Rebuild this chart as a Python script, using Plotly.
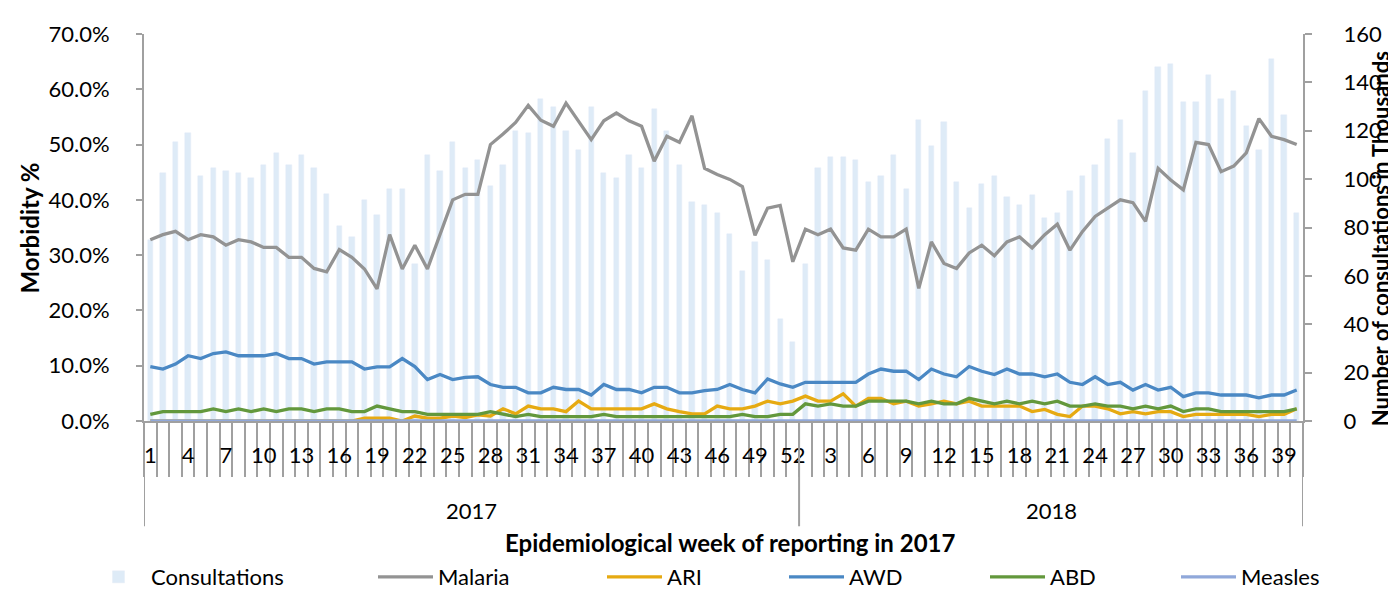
import plotly.graph_objects as go

# ---------------- data ----------------
years = ["2017", "2018"]
weeks_2017 = list(range(1, 53))
weeks_2018 = list(range(1, 41))

# consultations in thousands
consult_2017 = [75, 102.5, 115.5, 119, 101.5, 104.5, 103.5, 102.5, 100.5, 106,
                111, 106, 110, 104.5, 94, 80.5, 76, 91.5, 85, 96,
                96, 65, 110, 103.5, 115.5, 104.5, 108, 97, 106, 120,
                119, 133, 130, 120, 112, 130, 102.5, 100.5, 110, 104.5,
                129, 120, 106, 90.5, 89.5, 86, 77.5, 62, 74, 66.5,
                42, 32.5]
consult_2018 = [65, 104.5, 109, 109, 108, 99, 101.5, 110, 96, 124.5,
                113.5, 123.5, 99, 88, 98, 101.5, 92.5, 89.5, 93.5, 84,
                86, 95, 101.5, 106, 116.5, 124.5, 111, 136.5, 146.5, 147.5,
                132, 132, 143, 133, 136.5, 122, 112, 149.5, 126.5, 86]

# morbidity in percent
malaria_2017 = [32.8, 33.7, 34.3, 32.8, 33.7, 33.3, 31.8, 32.8, 32.4, 31.4,
                31.4, 29.6, 29.6, 27.6, 27.0, 31.0, 29.6, 27.5, 23.9, 33.7,
                27.5, 31.8, 27.5, 33.7, 40.0, 41.0, 41.0, 50.0, 51.9, 54.0,
                57.1, 54.4, 53.3, 57.5, 54.3, 50.9, 54.3, 55.7, 54.3, 53.3,
                47.0, 51.5, 50.4, 55.2, 45.7, 44.6, 43.7, 42.4, 33.6, 38.5,
                39.0, 28.8]
malaria_2018 = [34.7, 33.7, 34.7, 31.3, 30.9, 34.7, 33.3, 33.3, 34.7, 24.0,
                32.4, 28.5, 27.6, 30.4, 31.8, 29.9, 32.4, 33.3, 31.3, 33.7,
                35.6, 30.9, 34.3, 37.0, 38.5, 40.0, 39.5, 36.1, 45.7, 43.6,
                41.8, 50.4, 50.0, 45.1, 46.1, 48.5, 54.7, 51.5, 50.9, 50.0]

ari_2017 = [0, 0, 0, 0, 0, 0, 0, 0, 0, 0,
            0, 0, 0, 0, 0, 0, 0, 0.5, 0.5, 0.5,
            0, 0.9, 0.5, 0.5, 0.9, 0.6, 1.1, 0.9, 2.2, 1.3,
            2.7, 2.2, 2.2, 1.7, 3.6, 2.2, 2.2, 2.2, 2.2, 2.2,
            3.1, 2.2, 1.7, 1.3, 1.3, 2.7, 2.2, 2.2, 2.7, 3.6,
            3.1, 3.6]
ari_2018 = [4.5, 3.6, 3.6, 4.9, 2.7, 4.1, 4.1, 3.1, 3.6, 2.7,
            3.1, 3.6, 3.1, 3.6, 2.7, 2.7, 2.7, 2.7, 1.7, 2.1,
            1.2, 0.8, 2.7, 2.7, 2.2, 1.3, 1.7, 1.3, 1.7, 1.7,
            0.8, 1.2, 1.2, 1.2, 1.2, 1.2, 0.8, 1.2, 1.2, 2.2]

awd_2017 = [9.85, 9.4, 10.3, 11.8, 11.3, 12.2, 12.5, 11.8, 11.8, 11.8,
            12.2, 11.3, 11.3, 10.3, 10.7, 10.7, 10.7, 9.4, 9.8, 9.8,
            11.3, 9.85, 7.5, 8.4, 7.5, 7.9, 8.0, 6.6, 6.1, 6.1,
            5.1, 5.1, 6.1, 5.7, 5.7, 4.7, 6.6, 5.7, 5.7, 5.1,
            6.1, 6.1, 5.1, 5.1, 5.5, 5.7, 6.6, 5.7, 5.1, 7.6,
            6.7, 6.1]
awd_2018 = [7.0, 7.0, 7.0, 7.0, 7.0, 8.5, 9.4, 9.0, 9.0, 7.5,
            9.4, 8.5, 8.0, 9.85, 9.0, 8.4, 9.4, 8.5, 8.5, 8.0,
            8.5, 7.0, 6.6, 8.0, 6.6, 7.0, 5.6, 6.6, 5.6, 6.1,
            4.4, 5.1, 5.1, 4.7, 4.7, 4.7, 4.2, 4.7, 4.7, 5.6]

abd_2017 = [1.2, 1.7, 1.7, 1.7, 1.7, 2.2, 1.7, 2.2, 1.7, 2.2,
            1.7, 2.2, 2.2, 1.7, 2.2, 2.2, 1.7, 1.7, 2.7, 2.2,
            1.7, 1.7, 1.2, 1.2, 1.2, 1.2, 1.2, 1.7, 1.2, 0.8,
            1.2, 0.8, 0.8, 0.8, 0.8, 0.8, 1.2, 0.8, 0.8, 0.8,
            0.8, 0.8, 0.8, 0.8, 0.8, 0.8, 0.8, 1.2, 0.8, 0.8,
            1.2, 1.2]
abd_2018 = [3.1, 2.7, 3.1, 2.7, 2.7, 3.6, 3.6, 3.6, 3.6, 3.1,
            3.6, 3.1, 3.1, 4.1, 3.6, 3.1, 3.6, 3.1, 3.6, 3.1,
            3.6, 2.7, 2.7, 3.1, 2.7, 2.7, 2.2, 2.7, 2.2, 2.7,
            1.7, 2.2, 2.2, 1.7, 1.7, 1.7, 1.7, 1.7, 1.7, 2.2]

measles_2017 = [0, 0, 0, 0, 0, 0, 0, 0, 0, 0,
                0, 0, 0, 0, 0, 0, 0.1, 0.1, 0, 0,
                0, 0, 0, 0, 0, 0, 0, 0, 0, 0,
                0, 0, 0, 0, 0, 0, 0, 0, 0, 0,
                0, 0, 0, 0, 0, 0, 0, 0, 0, 0,
                0, 0]
measles_2018 = [0] * 40

left_ticks = [0, 10, 20, 30, 40, 50, 60, 70]
left_labels = ["0.0%", "10.0%", "20.0%", "30.0%", "40.0%", "50.0%", "60.0%", "70.0%"]
right_ticks = [0, 20, 40, 60, 80, 100, 120, 140, 160]

# ---------------- derived ----------------
weeks = weeks_2017 + weeks_2018
xpos = list(range(1, len(weeks) + 1))
n17 = len(weeks_2017)
ntot = len(weeks)

FONT = "Lato"
AXC = "#a0a0a0"
TICKF = dict(family=FONT, size=22, color="#000")
TITLEF = dict(family=FONT, size=24, color="#000")

fig = go.Figure()

fig.add_trace(go.Bar(x=xpos, y=consult_2017 + consult_2018, name="Consultations",
                     marker_color="#deebf7", width=0.42, yaxis="y",
                     legend="legend", showlegend=True))

series = [
    ("Malaria", malaria_2017 + malaria_2018, "#939393", "legend2"),
    ("ARI", ari_2017 + ari_2018, "#e6aa12", "legend3"),
    ("AWD", awd_2017 + awd_2018, "#4a88c4", "legend4"),
    ("ABD", abd_2017 + abd_2018, "#63983c", "legend5"),
    ("Measles", measles_2017 + measles_2018, "#90a8da", "legend6"),
]
for name, vals, col, lg in series:
    fig.add_trace(go.Scatter(x=xpos, y=vals, name=name, mode="lines",
                             line=dict(color=col, width=3.3), yaxis="y2",
                             legend=lg, showlegend=True))

# group dividers and year labels
bounds = [0.5, n17 + 0.5, ntot + 0.5]
shapes = []
for b in bounds:
    shapes.append(dict(type="line", xref="x", yref="paper", x0=b, x1=b,
                       y0=0, y1=-0.272, line=dict(color=AXC, width=2)))
annotations = []
for i, yr in enumerate(years):
    annotations.append(dict(x=(bounds[i] + bounds[i + 1]) / 2, y=-0.232,
                            xref="x", yref="paper", text=yr, showarrow=False,
                            font=TICKF, yanchor="middle"))
annotations.append(dict(x=0.506, y=-0.314, xref="paper", yref="paper",
                        text="<b>Epidemiological week of reporting in 2017</b>",
                        showarrow=False, yanchor="middle", font=TITLEF))
annotations.append(dict(x=-0.0984, y=0.5, xref="paper", yref="paper",
                        text="<b>Morbidity %</b>", textangle=-90,
                        showarrow=False, xanchor="center", yanchor="middle",
                        font=TITLEF))
annotations.append(dict(x=1.0665, y=0.47, xref="paper", yref="paper",
                        text="<b>Number of consultations in Thousands</b>",
                        textangle=-90, showarrow=False, xanchor="center",
                        yanchor="middle",
                        font=dict(family=FONT, size=22, color="#000")))

label_pos = xpos[::3]
label_txt = [str(w) for w in weeks[::3]]

fig.update_layout(
    width=1396, height=591,
    margin=dict(l=136, r=101, t=24, b=178),
    paper_bgcolor="white", plot_bgcolor="white",
    font=dict(family=FONT, size=22, color="#000"),
    bargap=0,
    showlegend=True,
    xaxis=dict(range=[0.5, ntot + 0.5], tickmode="array", tickvals=label_pos,
               ticktext=label_txt, ticks="", showgrid=False, zeroline=False,
               showline=True, linecolor=AXC, linewidth=2,
               ticklabelstandoff=14, tickfont=TICKF,
               minor=dict(tickmode="array",
                          tickvals=[i + 0.5 for i in range(0, ntot + 1)],
                          ticks="outside", ticklen=54, tickwidth=2,
                          tickcolor=AXC, showgrid=False)),
    yaxis=dict(range=[0, 160], tickmode="array", tickvals=right_ticks,
               side="right", showgrid=False, zeroline=False, showline=True,
               linecolor=AXC, linewidth=2, ticks="outside", ticklen=7,
               tickwidth=2, tickcolor=AXC, ticklabelstandoff=27,
               tickfont=TICKF),
    yaxis2=dict(range=[0, 70], tickmode="array", tickvals=left_ticks,
                ticktext=left_labels, side="left",
                overlaying="y", showgrid=False, zeroline=False, showline=True,
                linecolor=AXC, linewidth=2, ticks="outside", ticklen=6,
                tickwidth=2, tickcolor=AXC, ticklabelstandoff=22,
                tickfont=TICKF),
    shapes=shapes,
    annotations=annotations,
)

legend_x = [78, 365, 594, 776, 977, 1168]
legend_names = ["legend", "legend2", "legend3", "legend4", "legend5", "legend6"]
for lx, ln in zip(legend_x, legend_names):
    fig.update_layout({ln: dict(x=lx / 1396, y=(591 - 569) / 591,
                                xref="container", yref="container",
                                xanchor="left", yanchor="middle", visible=True,
                                orientation="h", itemwidth=55,
                                bgcolor="rgba(0,0,0,0)",
                                font=dict(family=FONT, size=22, color="#000"))})

fig.write_html("out.html")
